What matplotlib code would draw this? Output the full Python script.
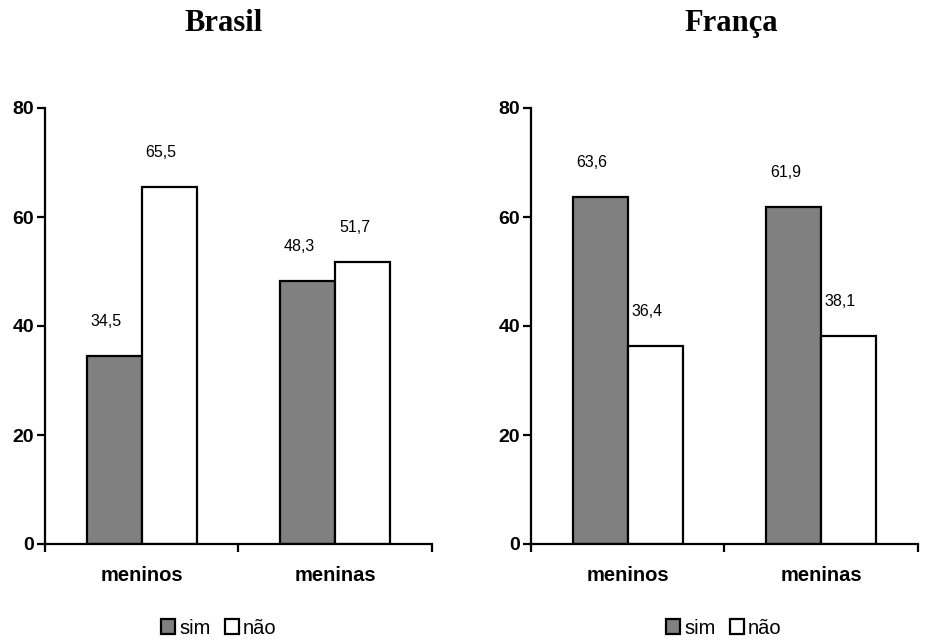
import numpy as np
import matplotlib.pyplot as plt
from matplotlib.patches import Patch

# dados
paises = ['Brasil', 'França']
categorias = ['meninos', 'meninas']
sim = {'Brasil': [34.5, 48.3], 'França': [63.6, 61.9]}
nao = {'Brasil': [65.5, 51.7], 'França': [36.4, 38.1]}
rotulos_y = [0, 20, 40, 60, 80]

W, H = 928, 641
fig = plt.figure(figsize=(W / 100, H / 100), dpi=100)
plt.rcParams['font.family'] = ['Liberation Sans', 'DejaVu Sans']

cinza = '#808080'
largura = 0.285
eixos_x = [45, 531]
titulo_x = [224, 731]
legenda_x = [219, 724]

for i, pais in enumerate(paises):
    ax = fig.add_axes([eixos_x[i] / W, 97 / H, 387 / W, 436 / H])
    x = np.arange(len(categorias)) + 0.5
    b1 = ax.bar(x - largura / 2, sim[pais], largura, color=cinza, edgecolor='black', linewidth=1.6)
    b2 = ax.bar(x + largura / 2, nao[pais], largura, color='white', edgecolor='black', linewidth=1.6)
    for barras, vals in [(b1, sim[pais]), (b2, nao[pais])]:
        for b, v in zip(barras, vals):
            ax.annotate(f'{v:.1f}'.replace('.', ','), (b.get_x() + b.get_width() / 2, v),
                        xytext=(-6, 19.5), textcoords='offset points', ha='center', va='bottom', fontsize=11.5)
    ax.set_xlim(0, 2)
    ax.set_ylim(0, 80)
    ax.set_yticks(rotulos_y)
    ax.set_yticklabels([str(r) for r in rotulos_y], fontsize=14, fontweight='bold')
    ax.set_xticks([0, 1, 2])
    ax.set_xticklabels([])
    ax.set_xticks(x, minor=True)
    ax.set_xticklabels(categorias, minor=True, fontsize=14.5, fontweight='bold')
    ax.tick_params(axis='x', which='minor', length=0, pad=16)
    ax.tick_params(axis='x', which='major', length=6, width=1.6, direction='out')
    ax.tick_params(axis='y', length=6, width=1.6, direction='out', pad=2)
    for s in ['top', 'right']:
        ax.spines[s].set_visible(False)
    for s in ['left', 'bottom']:
        ax.spines[s].set_linewidth(1.6)

    fig.text(titulo_x[i] / W, 1 - 31 / H, pais, ha='center', va='baseline', fontsize=22,
             fontweight='bold', family=['Liberation Serif', 'DejaVu Serif'])

    handles = [Patch(facecolor=cinza, edgecolor='black', linewidth=1.6, label='sim'),
               Patch(facecolor='white', edgecolor='black', linewidth=1.6, label='não')]
    fig.legend(handles=handles, loc='center', bbox_to_anchor=(legenda_x[i] / W, 1 - 628 / H),
               ncol=2, frameon=False, fontsize=14.5, handlelength=0.7, handleheight=0.7,
               handletextpad=0.2, columnspacing=0.7)

fig.savefig('out.png', dpi=100)
